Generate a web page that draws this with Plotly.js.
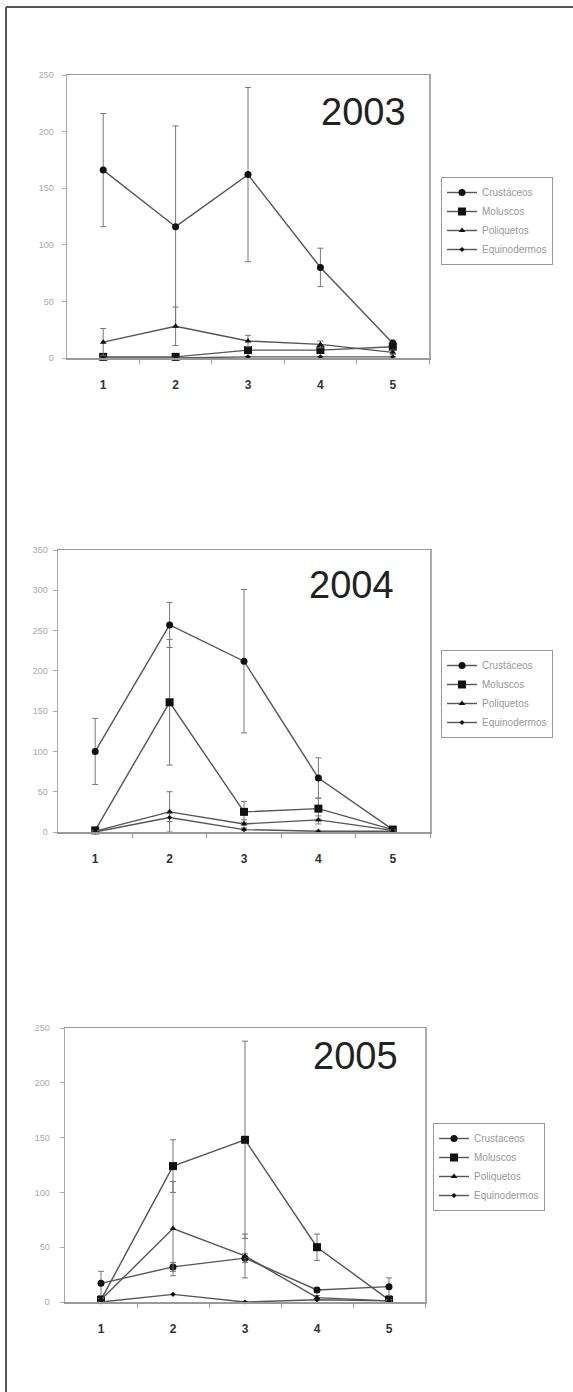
<!DOCTYPE html>
<html>
<head>
<meta charset="utf-8">
<script src="https://cdn.plot.ly/plotly-3.0.1.min.js"></script>
<style>html,body{margin:0;padding:0;background:#fff;}#chart{width:573px;height:1392px;}</style>
</head>
<body>
<div id="chart"></div>
<script>
// ---- data ----
const sites = [1, 2, 3, 4, 5];
const siteLabels = ['1', '2', '3', '4', '5'];
const years = ['2003', '2004', '2005'];
const seriesNames = ['Crustáceos', 'Moluscos', 'Poliquetos', 'Equinodermos'];
const seriesNames2005 = ['Crustaceos', 'Moluscos', 'Poliquetos', 'Equinodermos'];

// 2003
const crus2003 = [166, 116, 162, 80, 13];
const crusErr2003 = [50, 89, 77, 17, 3];
const mol2003 = [1, 1, 7, 7, 10];
const molErr2003 = [1, 1, 3, 3, 3];
const pol2003 = [14, 28, 15, 12, 5];
const polErr2003 = [12, 17, 5, 3, 2];
const equ2003 = [0, 0, 1, 1, 1];
const equErr2003 = [0, 0, 0, 0, 0];

// 2004
const crus2004 = [100, 257, 212, 67, 3];
const crusErr2004 = [41, 28, 89, 25, 2];
const mol2004 = [2, 161, 25, 29, 3];
const molErr2004 = [2, 78, 13, 13, 2];
const pol2004 = [1, 25, 10, 15, 2];
const polErr2004 = [1, 25, 5, 5, 1];
const equ2004 = [0, 18, 3, 1, 1];
const equErr2004 = [0, 5, 1, 0, 0];

// 2005
const crus2005 = [17, 32, 40, 11, 14];
const crusErr2005 = [11, 4, 4, 2, 8];
const mol2005 = [2, 124, 148, 50, 2];
const molErr2005 = [1, 24, 90, 12, 1];
const pol2005 = [2, 67, 42, 4, 1];
const polErr2005 = [1, 43, 20, 2, 1];
const equ2005 = [0, 7, 0, 2, 1];
const equErr2005 = [0, 0, 0, 0, 0];

const yMax = [250, 350, 250];

// ---- styling ----
const W = 573, H = 1392;
const px = v => v / W;
const py = v => 1 - v / H;

const panels = [
  {x0: 67, x1: 429, y0: 75, y1: 358, leg: [441, 177], yr: [0.942, 0.869], stand: 6},
  {x0: 58, x1: 430, y0: 550, y1: 832, leg: [441, 650], yr: [0.909, 0.876], stand: 3},
  {x0: 65, x1: 425, y0: 1028, y1: 1302, leg: [433, 1123], yr: [0.931, 0.898], stand: 8}
];

const data = [
  [crus2003, mol2003, pol2003, equ2003],
  [crus2004, mol2004, pol2004, equ2004],
  [crus2005, mol2005, pol2005, equ2005]
];
const errs = [
  [crusErr2003, molErr2003, polErr2003, equErr2003],
  [crusErr2004, molErr2004, polErr2004, equErr2004],
  [crusErr2005, molErr2005, polErr2005, equErr2005]
];
const markers = [
  {symbol: 'circle', size: 7},
  {symbol: 'square', size: 8},
  {symbol: 'triangle-up', size: 6},
  {symbol: 'diamond', size: 4}
];

const traces = [];
const layout = {
  width: W, height: H,
  margin: {l: 0, r: 0, t: 0, b: 0},
  paper_bgcolor: '#fff', plot_bgcolor: '#fff',
  font: {family: 'Liberation Sans, Arial, sans-serif'},
  annotations: [],
  shapes: [
    {type: 'line', xref: 'paper', yref: 'paper', x0: px(6), x1: px(6), y0: py(7), y1: 0, line: {color: '#555', width: 2}},
    {type: 'line', xref: 'paper', yref: 'paper', x0: px(6), x1: 1, y0: py(7), y1: py(7), line: {color: '#555', width: 2}}
  ]
};

panels.forEach((p, i) => {
  const sfx = i === 0 ? '' : String(i + 1);
  const legName = 'legend' + sfx;
  const names = i === 2 ? seriesNames2005 : seriesNames;
  for (let s = 0; s < 4; s++) {
    traces.push({
      type: 'scatter', mode: 'lines+markers',
      x: sites, y: data[i][s], name: names[s],
      xaxis: 'x' + sfx, yaxis: 'y' + sfx, legend: legName,
      cliponaxis: false,
      line: {color: '#555', width: 1.4},
      marker: {symbol: markers[s].symbol, size: markers[s].size, color: '#111'},
      error_y: {type: 'data', array: errs[i][s], visible: true, color: '#777', thickness: 1, width: 3}
    });
  }
  layout['xaxis' + sfx] = {
    domain: [px(p.x0), px(p.x1)], anchor: 'y' + sfx,
    range: [0.5, 5.5], tickmode: 'array', tickvals: sites, ticktext: siteLabels,
    ticks: '', showgrid: false, zeroline: false,
    showline: true, linecolor: '#999', linewidth: 1.5, mirror: true,
    tickfont: {size: 12, color: '#333', weight: 'bold'}, ticklabelstandoff: 15,
    minor: {tickmode: 'array', tickvals: [1.5, 2.5, 3.5, 4.5, 5.5], ticks: 'outside', ticklen: 4, tickcolor: '#999', showgrid: false},
    fixedrange: true
  };
  layout['yaxis' + sfx] = {
    domain: [py(p.y1), py(p.y0)], anchor: 'x' + sfx,
    range: [0, yMax[i]], dtick: 50, ticks: 'outside', ticklen: 4, tickcolor: '#aaa',
    showgrid: false, zeroline: false,
    showline: true, linecolor: '#aaa', linewidth: 1.5, mirror: true,
    tickfont: {size: 9, color: '#aaa'}, ticklabelstandoff: p.stand,
    fixedrange: true
  };
  layout[legName] = {
    x: px(p.leg[0]), y: py(p.leg[1]), xanchor: 'left', yanchor: 'top',
    xref: 'paper', yref: 'paper',
    bordercolor: '#999', borderwidth: 1, bgcolor: '#fff',
    font: {size: 10, color: '#999'}, itemwidth: 30, tracegroupgap: 0
  };
  layout.annotations.push({
    xref: 'x' + sfx + ' domain', yref: 'y' + sfx + ' domain',
    x: p.yr[0], y: p.yr[1], xanchor: 'right', yanchor: 'middle',
    text: years[i], showarrow: false,
    font: {size: 38, color: '#222', family: 'Liberation Sans, Arial, sans-serif'}
  });
});

Plotly.newPlot('chart', traces, layout, {staticPlot: true, displayModeBar: false});
</script>
</body>
</html>
